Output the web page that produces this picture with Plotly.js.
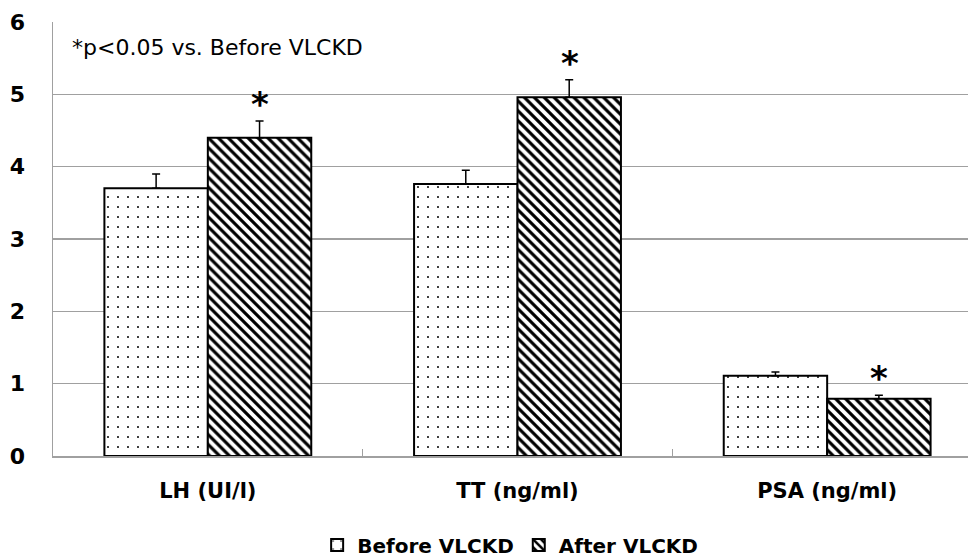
<!DOCTYPE html>
<html>
<head>
<meta charset="utf-8">
<script src="https://cdn.plot.ly/plotly-3.0.1.min.js"></script>
<style>html,body{margin:0;padding:0;background:#fff;}#chart{width:968px;height:559px;}</style>
</head>
<body>
<div id="chart"></div>
<script>
const categories = ["LH (UI/l)", "TT (ng/ml)", "PSA (ng/ml)"];
const beforeValues = [3.70, 3.76, 1.11];
const beforeErrors = [0.20, 0.19, 0.05];
const afterValues = [4.40, 4.96, 0.79];
const afterErrors = [0.23, 0.24, 0.05];
const significant = [true, true, true];
const seriesNames = ["Before VLCKD", "After VLCKD"];
const noteText = "*p<0.05 vs. Before VLCKD";
const yTicks = [0, 1, 2, 3, 4, 5, 6];

const FONT = "'DejaVu Sans', sans-serif";

const traces = [
  {
    type: "bar", name: seriesNames[0], x: categories, y: beforeValues,
    marker: {color: "#ffffff", line: {color: "#000000", width: 2},
      pattern: {shape: ".", fgcolor: "#000000", bgcolor: "#ffffff", size: 10, solidity: 0.03}},
    error_y: {type: "data", symmetric: false, array: beforeErrors, arrayminus: [0,0,0],
      color: "#000000", thickness: 1.5, width: 4}
  },
  {
    type: "bar", name: seriesNames[1], x: categories, y: afterValues,
    marker: {color: "#ffffff", line: {color: "#000000", width: 2},
      pattern: {shape: "\\", fgcolor: "#000000", bgcolor: "#ffffff", size: 7, solidity: 0.45}},
    error_y: {type: "data", symmetric: false, array: afterErrors, arrayminus: [0,0,0],
      color: "#000000", thickness: 1.5, width: 4}
  }
];

const annotations = [{
  text: noteText, xref: "paper", yref: "paper", x: 0.019, y: 0.942,
  xanchor: "left", yanchor: "middle", showarrow: false,
  font: {family: FONT, size: 22, color: "#000"}
}];
categories.forEach((c, i) => {
  if (significant[i]) {
    annotations.push({
      text: "*", x: c, y: afterValues[i] + afterErrors[i], xref: "x", yref: "y",
      xshift: 52, yshift: -5, yanchor: "bottom", showarrow: false,
      font: {family: FONT, size: 34, color: "#000", weight: "bold"}
    });
  }
});

const layout = {
  width: 968, height: 559,
  margin: {l: 53, r: 0, t: 22, b: 103},
  paper_bgcolor: "#ffffff", plot_bgcolor: "#ffffff",
  barmode: "group", bargap: 0.332, bargroupgap: 0,
  showlegend: true,
  legend: {orientation: "h", x: 0.527, xanchor: "center", xref: "container",
    y: 0.025, yanchor: "middle", yref: "container",
    font: {family: FONT, size: 20, color: "#000", weight: "bold"},
    itemwidth: 30, traceorder: "normal"},
  xaxis: {
    range: [-0.5, 2.4548],
    showline: true, linecolor: "#a0a0a0", linewidth: 1.5,
    ticks: "inside", tickson: "boundaries", ticklen: 7, tickcolor: "#a0a0a0", tickwidth: 1.5,
    tickfont: {family: FONT, size: 21, color: "#000", weight: "bold"},
    ticklabelstandoff: 15, showgrid: false
  },
  yaxis: {
    range: [0, 6], tickvals: yTicks, ticktext: yTicks.map(String),
    showline: true, linecolor: "#a0a0a0", linewidth: 1.5,
    showgrid: true, gridcolor: "#a0a0a0", gridwidth: 1.5, zeroline: false,
    ticks: "", ticklabelstandoff: 22,
    tickfont: {family: FONT, size: 22, color: "#000", weight: "bold"}
  },
  annotations: annotations
};

Plotly.newPlot("chart", traces, layout, {displayModeBar: false, staticPlot: true});
</script>
</body>
</html>
